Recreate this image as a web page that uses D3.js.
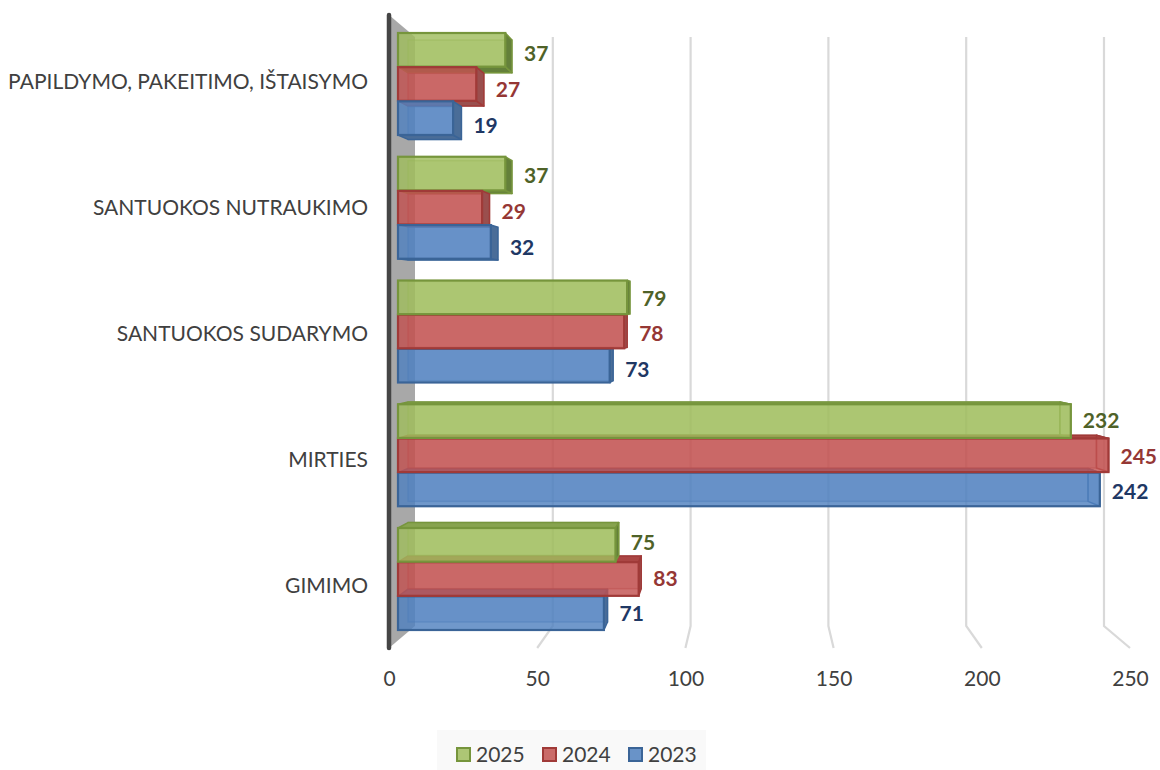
<!DOCTYPE html>
<html>
<head>
<meta charset="utf-8">
<script src="https://cdnjs.cloudflare.com/ajax/libs/d3/7.8.5/d3.min.js"></script>
<style>
  html, body { margin: 0; padding: 0; background: #fff; }
  svg { display: block; }
  text { font-family: Lato, "Open Sans", sans-serif; }
  .tick_label, .cat_label, .legend_label { fill: #404040; }
  .value_label { font-weight: 700; }
</style>
</head>
<body>
<svg class="chart" width="1160" height="770"></svg>
<script>
var categories = ["PAPILDYMO, PAKEITIMO, IŠTAISYMO", "SANTUOKOS NUTRAUKIMO", "SANTUOKOS SUDARYMO", "MIRTIES", "GIMIMO"];
var years = ["2025", "2024", "2023"];
var values2025 = [37, 37, 79, 232, 75];
var values2024 = [27, 29, 78, 245, 83];
var values2023 = [19, 32, 73, 242, 71];
var ticks = [0, 50, 100, 150, 200, 250];

var series = {"2025": values2025, "2024": values2024, "2023": values2023};
var colors = {
  "2025": {front: "#a0bd5e", line: "#76953c", side: "#64803a", top: "#87a34f", text: "#4f6228"},
  "2024": {front: "#c25250", line: "#a03a38", side: "#9a4f4e", top: "#ab4644", text: "#953735"},
  "2023": {front: "#5081c0", line: "#3a6497", side: "#4a6d98", top: "#4a78b2", text: "#1f3864"}
};

var chart = d3.select(".chart");

// the chart is a 3D one: front of plot, back wall and bars all have their own scale
var x_floor = d3.scaleLinear().domain([0, 250]).range([389, 1130]);
var x_wall = d3.scaleLinear().domain([0, 250]).range([415, 1104]);
var x_front = d3.scaleLinear().domain([0, 250]).range([398, 1123]);
var x_back = d3.scaleLinear().domain([0, 250]).range([408, 1110.5]);

var wall_top = 37, wall_bottom = 626, floor_y = 648, axis_top = 15;

var y_group = d3.scaleBand().domain(categories).range([33, 630]).paddingInner(0.176);
var y_bar = d3.scaleBand().domain(years).range([0, y_group.bandwidth()]).paddingInner(0.015);
var y_back = d3.scaleLinear().domain([33, 630]).range([40, 622]);
var y_label = d3.scalePoint().domain(categories).range([81, 585]);
// value labels sit a little further apart than the bars do
var label_shift = d3.scalePoint().domain(years).range([0, 4]);

// side wall
chart.append("polygon")
  .attr("points", [[x_floor(0), axis_top], [x_wall(0), wall_top], [x_wall(0), wall_bottom], [x_floor(0), floor_y]].join(" "))
  .attr("fill", "#a8a8a8");

// gridlines, running along the back wall and then over the floor
chart.append("g").selectAll("polyline")
  .data(ticks.slice(1))
  .enter().append("polyline")
    .attr("points", d => [[x_wall(d), wall_top], [x_wall(d), wall_bottom], [x_floor(d), floor_y]].join(" "))
    .attr("fill", "none")
    .attr("stroke", "#d9d9d9")
    .attr("stroke-width", 2.2);

chart.append("line")
  .attr("x1", x_floor(0)).attr("x2", x_floor(0))
  .attr("y1", axis_top).attr("y2", floor_y)
  .attr("stroke", "#454545")
  .attr("stroke-width", 4.5)
  .attr("stroke-linecap", "round");

// flat list of bars, far ones first so nearer ones paint over them
var bars = [];
categories.forEach(function(c, i) {
  years.forEach(function(yr) {
    var y1 = y_group(c) + y_bar(yr);
    bars.push({cat: c, year: yr, value: series[yr][i], y1: y1, y2: y1 + y_bar.bandwidth()});
  });
});
var mid_y = 310;
bars.sort((a, b) => Math.abs((b.y1 + b.y2) / 2 - mid_y) - Math.abs((a.y1 + a.y2) / 2 - mid_y));

var bar_container = chart.append("g");

bars.forEach(function(d) {
  var col = colors[d.year];
  var l1 = x_front(0), r1 = x_front(d.value), t1 = d.y1, b1 = d.y2;
  var l2 = x_back(0), r2 = x_back(d.value), t2 = y_back(d.y1), b2 = y_back(d.y2);
  var g = bar_container.append("g");

  function face(points, fill, opacity) {
    g.append("polygon")
      .attr("points", points.join(" "))
      .attr("fill", fill)
      .attr("fill-opacity", opacity)
      .attr("stroke", col.line)
      .attr("stroke-width", 1.5)
      .attr("stroke-linejoin", "round");
  }

  // back face
  g.append("rect")
    .attr("x", l2).attr("y", t2)
    .attr("width", r2 - l2).attr("height", b2 - t2)
    .attr("fill", col.front).attr("fill-opacity", 0.3)
    .attr("stroke", col.line).attr("stroke-opacity", 0.45).attr("stroke-width", 1.5);

  if (t2 < t1) face([[l1, t1], [l2, t2], [r2, t2], [r1, t1]], col.top, 1);
  if (b2 > b1) face([[l1, b1], [l2, b2], [r2, b2], [r1, b1]], col.side, 1);
  // long bars: the end face is seen from inside, through the front
  if (r2 > r1) face([[r1, t1], [r2, t2], [r2, b2], [r1, b1]], col.side, 1);
  else face([[r1, t1], [r2, t2], [r2, b2], [r1, b1]], col.front, 0.35);

  // front face, see-through like the original
  g.append("rect")
    .attr("x", l1).attr("y", t1)
    .attr("width", r1 - l1).attr("height", b1 - t1)
    .attr("fill", col.front).attr("fill-opacity", 0.82)
    .attr("stroke", col.line).attr("stroke-width", 2.2);

  g.append("text")
    .attr("class", "value_label")
    .attr("x", Math.max(r1, r2) + 12)
    .attr("y", (t1 + b1 + t2 + b2) / 4 + label_shift(d.year) + 0.5)
    .attr("dy", "0.36em")
    .attr("font-size", 21)
    .attr("fill", col.text)
    .text(d.value);
});

// category labels
chart.append("g").selectAll("text")
  .data(categories)
  .enter().append("text")
    .attr("class", "cat_label")
    .attr("x", 368)
    .attr("y", d => y_label(d))
    .attr("dy", "0.36em")
    .attr("text-anchor", "end")
    .attr("font-size", 21)
    .text(d => d);

// value axis along the front of the floor
var x_axis = chart.append("g")
  .attr("transform", "translate(0," + 678 + ")")
  .call(d3.axisBottom(x_floor).tickValues(ticks).tickSize(0).tickPadding(0));
x_axis.select(".domain").remove();
x_axis.selectAll("text")
  .attr("class", "tick_label")
  .attr("y", 0)
  .attr("dy", "0.36em")
  .attr("font-size", 21)
  .style("font-family", "Lato, 'Open Sans', sans-serif");

// legend
var legend = chart.append("g");
legend.append("rect")
  .attr("x", 437).attr("y", 730)
  .attr("width", 269).attr("height", 40)
  .attr("fill", "#f9f9f9");

var x_legend = d3.scalePoint().domain(years).range([457, 629]);
var legend_items = legend.selectAll(".legend_item")
  .data(years)
  .enter().append("g")
    .attr("class", "legend_item")
    .attr("transform", d => "translate(" + x_legend(d) + ",748)");
legend_items.append("rect")
  .attr("width", 13).attr("height", 13)
  .attr("fill", d => colors[d].front)
  .attr("fill-opacity", 0.85)
  .attr("stroke", d => colors[d].line)
  .attr("stroke-width", 2);
legend_items.append("text")
  .attr("class", "legend_label")
  .attr("x", 19)
  .attr("y", 6.5)
  .attr("dy", "0.36em")
  .attr("font-size", 21)
  .text(d => d);
</script>
</body>
</html>
